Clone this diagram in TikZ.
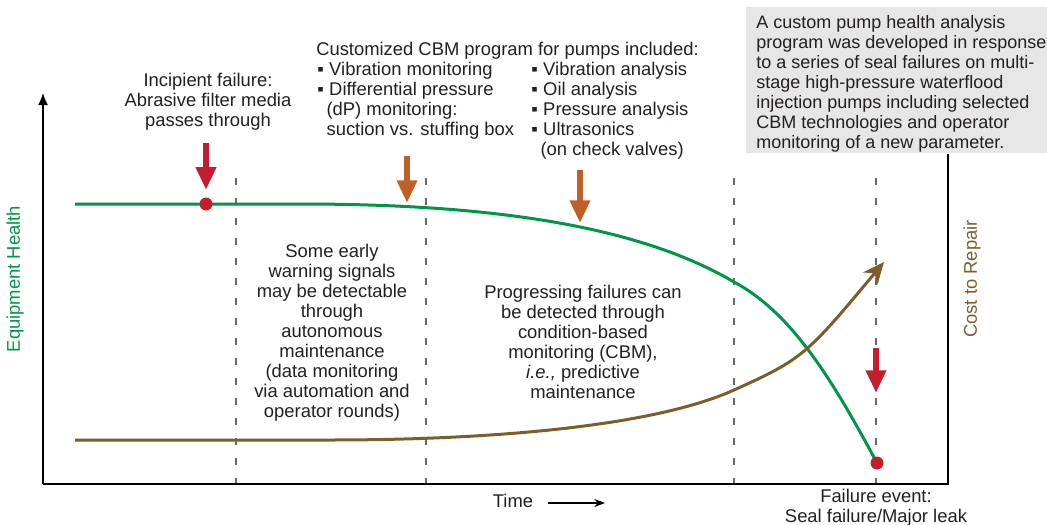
\documentclass[tikz,border=0pt]{standalone}
\usepackage{fontspec}
\setmainfont{Liberation Sans}
\usetikzlibrary{arrows.meta}
\definecolor{hgreen}{RGB}{0,150,72}
\definecolor{cbrown}{RGB}{124,94,40}
\definecolor{ared}{RGB}{196,30,46}
\definecolor{aorange}{RGB}{192,96,40}
\definecolor{dgray}{RGB}{105,105,105}
\definecolor{boxgray}{RGB}{230,230,230}
\definecolor{txtc}{RGB}{35,31,32}
\newcommand{\bul}{\makebox[9pt][l]{▪}}
\newcommand{\ind}{\hspace*{7pt}}
\begin{document}
\begin{tikzpicture}[x=0.75pt,y=-0.75pt,
  lbl/.style={font=\fontsize{13.8}{15}\selectfont, inner sep=0pt, text=txtc},
  axisline/.style={line width=1.1pt, black},
  phase/.style={dgray, line width=1.1pt, dash pattern=on 5.25pt off 9.75pt},
  healthcurve/.style={hgreen, line width=2.25pt},
  costcurve/.style={cbrown, line width=2.25pt},
  bigarrow/.style={line width=5pt, -{Triangle[length=17pt,width=14.5pt]}},
  dot/.style={circle, fill=ared, inner sep=0pt, minimum size=9.75pt}]
\useasboundingbox (0,0) rectangle (1047,525);

% note box
\fill[boxgray] (746,7) rectangle (1047,153);
\node[lbl, font=\fontsize{13.5}{15}\selectfont, align=left, anchor=north west] (note) at (756,15) {A custom pump health analysis\\program was developed in response\\to a series of seal failures on multi-\\stage high-pressure waterflood\\injection pumps including selected\\CBM technologies and operator\\monitoring of a new parameter.};

% phase lines
\foreach \xx in {236,426,734,876} \draw[phase] (\xx,178) -- (\xx,484);

% axes
\coordinate (O) at (43,484);
\coordinate (ytop) at (43,93);
\coordinate (xend) at (948,484);
\coordinate (rtop) at (948,154);
\draw[axisline, -{Latex[length=9pt,width=7.5pt]}] (O) -- (ytop);
\draw[axisline] (O) -- (xend) -- (rtop);

% curves
\coordinate (g0) at (75,204);
\coordinate (incpt) at (206,204);
\coordinate (g1) at (300,204);
\coordinate (g2) at (734,282);
\coordinate (failpt) at (877,463);
\draw[healthcurve] (g0) -- (incpt) -- (g1) .. controls (480,204) and (634,223) .. (g2) .. controls (790,312) and (830,375) .. (failpt);

\coordinate (b0) at (75,440);
\coordinate (b1) at (330,440);
\coordinate (b2) at (734,390);
\coordinate (b3) at (884,262);
\draw[costcurve, -{Stealth[length=16pt,width=14pt,inset=5pt]}] (b0) -- (b1) .. controls (480,440) and (650,428) .. (b2) .. controls (803,359) and (807,354.4) .. (b3);

% dots
\node[dot] (inc) at (incpt) {};
\node[dot] (fail) at (failpt) {};

% arrows
\coordinate (r1s) at (206,143);
\draw[bigarrow, ared, shorten >=5.5pt] (r1s) -- (inc.north);
\coordinate (o1s) at (407,156);
\coordinate (o1e) at (407,203);
\draw[bigarrow, aorange] (o1s) -- (o1e);
\coordinate (o2s) at (580,170);
\coordinate (o2e) at (580,223);
\draw[bigarrow, aorange] (o2s) -- (o2e);
\coordinate (r2s) at (876,348);
\coordinate (r2e) at (876,393);
\draw[bigarrow, ared] (r2s) -- (r2e);

% texts
\node[lbl, align=center, anchor=north] (incip) at (208,73) {Incipient failure:\\Abrasive filter media\\passes through};
\node[lbl, anchor=north west] (cbmtitle) at (316,42) {Customized CBM program for pumps included:};
\node[lbl, align=left, anchor=north west] (cbmleft) at (317,62) {\bul Vibration monitoring\\\bul Differential pressure\\\ind (dP) monitoring:\\\ind suction vs. stuffing box};
\node[lbl, align=left, anchor=north west] (cbmright) at (531,62) {\bul Vibration analysis\\\bul Oil analysis\\\bul Pressure analysis\\\bul Ultrasonics\\\ind (on check valves)};
\node[lbl, align=center, anchor=north] (early) at (332,244) {Some early\\warning signals\\may be detectable\\through\\autonomous\\maintenance\\(data monitoring\\via automation and\\operator rounds)};
\node[lbl, align=center, anchor=north] (prog) at (583,285) {Progressing failures can\\be detected through\\condition-based\\monitoring (CBM),\\\textit{i.e.,} predictive\\maintenance};
\node[lbl, anchor=north] (time) at (513,494) {Time};
\coordinate (ts) at (548,503);
\coordinate (te) at (605,503);
\draw[line width=1.1pt, -{Stealth[length=8pt,width=6pt]}] (ts) -- (te);
\node[lbl, align=center, anchor=north] (failtxt) at (876,489) {Failure event:\\Seal failure/Major leak};
\node[lbl, text=hgreen, rotate=90] (eh) at (15,279) {Equipment Health};
\node[lbl, text=cbrown, rotate=90] (cr) at (972,279) {Cost to Repair};
\end{tikzpicture}
\end{document}
